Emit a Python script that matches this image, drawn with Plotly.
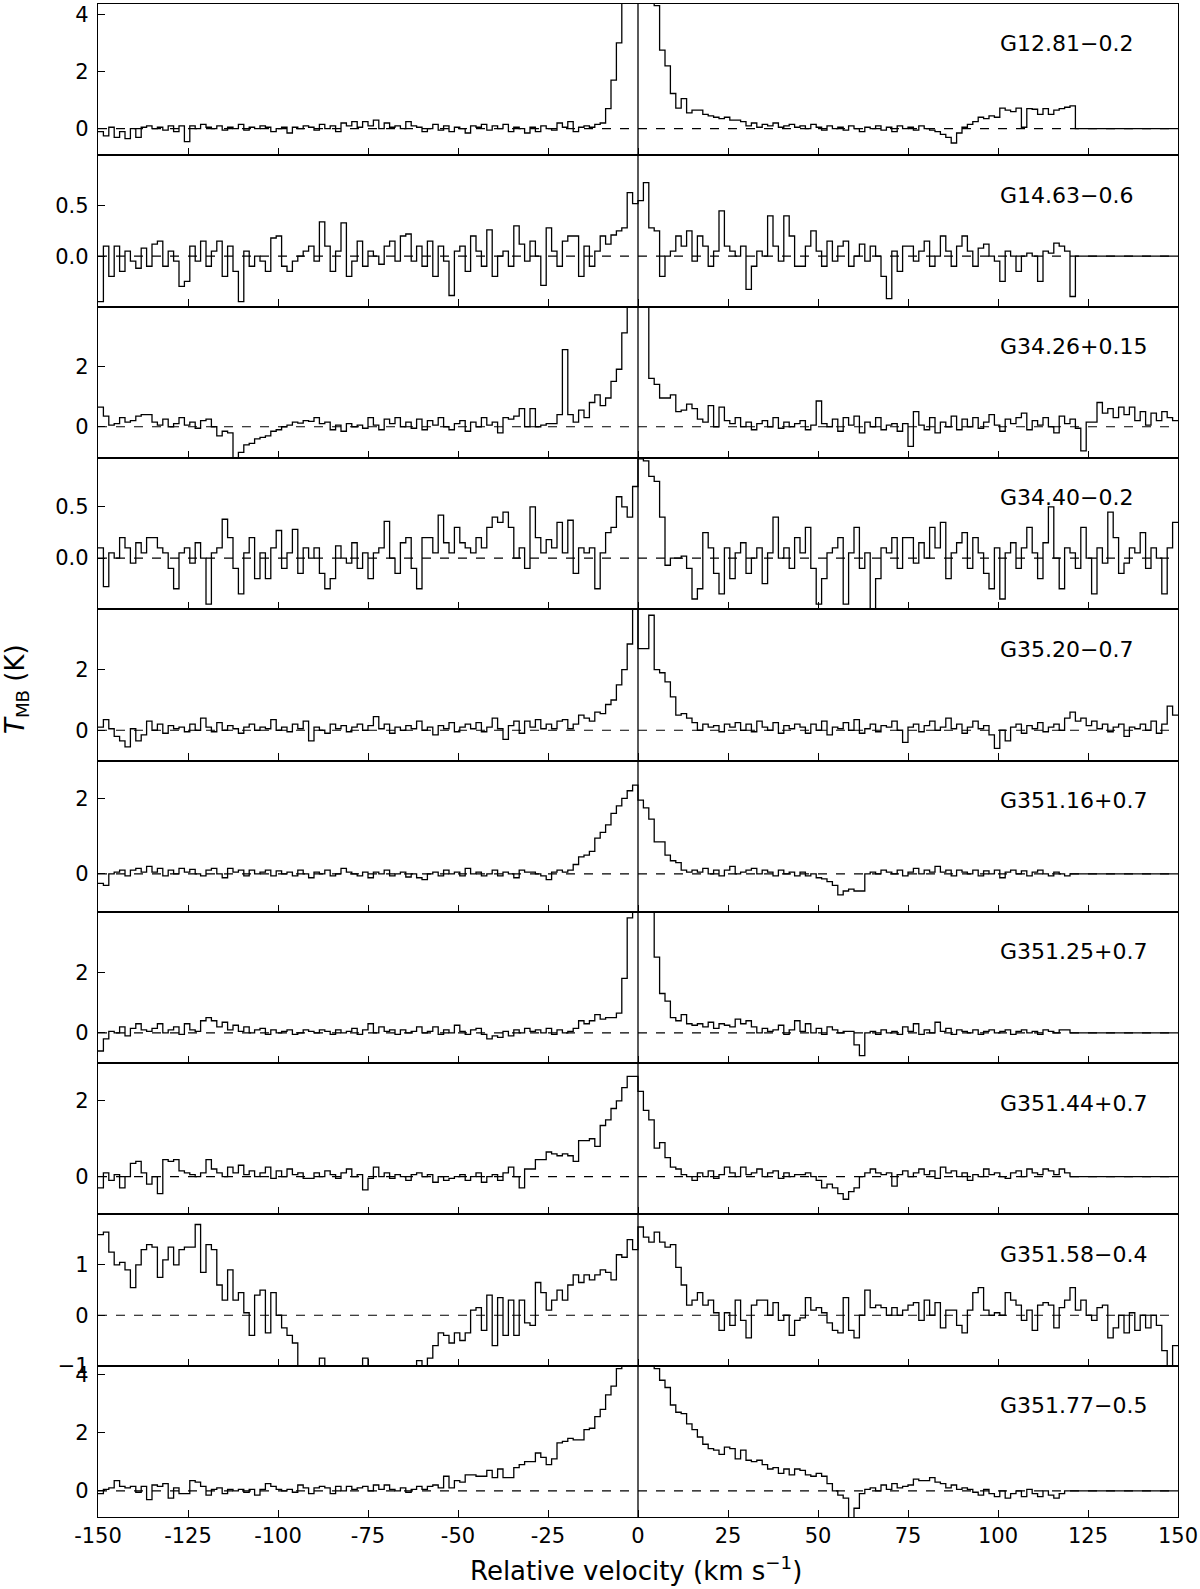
import plotly.graph_objects as go

# ---------------- data (channel width 1.5 km/s, from -150 to +150 km/s) ----------------
VEL_MIN = -150.0
CHAN = 1.5

source_names = ["G12.81\u22120.2", "G14.63\u22120.6", "G34.26+0.15", "G34.40\u22120.2", "G35.20\u22120.7",
                "G351.16+0.7", "G351.25+0.7", "G351.44+0.7", "G351.58\u22120.4", "G351.77\u22120.5"]

g12_81 = [
    -0.1, -0.25, 0.05, -0.3, -0.1, -0.35, 0.0, -0.3, 0.05, 0.1,
    0.0, 0.05, -0.05, 0.1, -0.1, 0.1, -0.45, 0.1, 0.0, 0.15,
    0.05, 0.0, 0.1, -0.05, 0.05, 0.0, 0.15, -0.05, 0.05, 0.0,
    0.1, 0.05, -0.1, 0.0, 0.05, -0.15, 0.05, 0.0, 0.1, 0.05,
    -0.05, 0.15, 0.0, 0.1, -0.1, 0.2, 0.1, 0.25, 0.05, 0.25,
    0.1, 0.3, 0.0, 0.2, 0.05, 0.1, 0.0, 0.25, 0.1, 0.05,
    -0.1, 0.0, 0.15, -0.05, 0.1, -0.1, 0.05, 0.0, -0.15, 0.1,
    0.05, 0.15, -0.05, 0.1, 0.0, 0.15, -0.1, 0.05, 0.0, -0.15,
    0.05, -0.1, 0.1, 0.0, -0.05, 0.2, 0.05, 0.25, -0.1, 0.05,
    0.1, 0.05, 0.15, 0.2, 0.7, 1.7, 3.0, 6.0, 9.0, 10.0,
    10.0, 8.0, 6.0, 4.3, 2.75, 2.2, 1.23, 0.72, 1.05, 0.55,
    0.65, 0.65, 0.5, 0.45, 0.4, 0.35, 0.4, 0.3, 0.3, 0.25,
    0.1, 0.2, 0.05, 0.15, 0.1, 0.2, 0.05, 0.1, 0.15, 0.05,
    0.1, 0.0, 0.15, 0.05, -0.05, 0.1, 0.0, 0.05, -0.05, 0.1,
    0.0, -0.1, 0.05, 0.0, 0.1, -0.05, 0.05, -0.1, 0.1, 0.0,
    0.05, -0.05, 0.1, 0.0, -0.05, -0.1, -0.2, -0.3, -0.5, -0.15,
    0.05, 0.15, 0.25, 0.4, 0.35, 0.45, 0.4, 0.72, 0.65, 0.6,
    0.72, 0.05, 0.7, 0.68, 0.5, 0.7, 0.5, 0.65, 0.7, 0.75,
    0.8, 0.0, 0.0, 0.0, 0.0, 0.0, 0.0, 0.0, 0.0, 0.0,
    0.0, 0.0, 0.0, 0.0, 0.0, 0.0, 0.0, 0.0, 0.0, 0.0,
]

g14_63 = [
    -0.45, 0.1, -0.2, 0.1, -0.15, 0.05, -0.05, -0.12, 0.08, -0.1,
    0.12, 0.15, -0.1, 0.05, -0.05, -0.3, -0.25, 0.1, -0.05, 0.15,
    -0.1, 0.05, 0.15, -0.2, 0.1, -0.15, -0.45, 0.05, -0.1, 0.0,
    -0.05, -0.15, 0.18, 0.2, -0.1, -0.15, -0.05, 0.0, 0.05, 0.1,
    -0.05, 0.34, 0.1, -0.15, 0.05, 0.33, -0.2, -0.05, 0.15, -0.1,
    0.05, 0.0, -0.08, 0.1, 0.15, -0.05, 0.2, 0.22, -0.05, 0.1,
    -0.1, 0.15, -0.2, 0.1, -0.05, -0.39, 0.05, 0.1, -0.15, 0.2,
    0.05, -0.1, 0.26, -0.2, 0.0, 0.05, -0.1, 0.3, 0.12, -0.05,
    0.15, 0.0, -0.29, 0.28, 0.05, -0.1, 0.15, 0.2, 0.2, -0.2,
    0.1, -0.1, 0.05, 0.2, 0.12, 0.21, 0.25, 0.28, 0.63, 0.52,
    0.55, 0.73, 0.28, 0.25, -0.2, 0.0, 0.05, 0.2, 0.1, 0.25,
    -0.05, 0.2, 0.1, -0.1, 0.05, 0.45, 0.1, 0.05, 0.0, 0.1,
    -0.33, -0.1, 0.05, 0.0, 0.4, 0.1, -0.05, 0.4, 0.2, -0.1,
    -0.1, 0.1, 0.25, 0.05, -0.1, 0.15, -0.05, 0.1, 0.15, -0.1,
    0.0, 0.12, -0.05, 0.1, 0.0, -0.2, -0.42, 0.05, -0.15, 0.1,
    0.1, -0.05, 0.05, 0.15, -0.1, 0.0, 0.2, 0.05, -0.1, 0.1,
    0.2, 0.05, -0.1, 0.08, 0.12, 0.0, -0.05, -0.25, 0.05, 0.0,
    -0.15, 0.0, 0.03, 0.0, -0.25, 0.05, 0.03, 0.13, 0.1, 0.05,
    -0.4, 0.0, 0.0, 0.0, 0.0, 0.0, 0.0, 0.0, 0.0, 0.0,
    0.0, 0.0, 0.0, 0.0, 0.0, 0.0, 0.0, 0.0, 0.0, 0.0,
]

g34_26 = [
    0.65, 0.35, 0.05, 0.1, 0.3, 0.15, 0.2, 0.35, 0.4, 0.4,
    0.15, 0.05, 0.25, 0.0, 0.1, 0.3, 0.05, 0.15, -0.05, 0.2,
    0.25, 0.0, -0.3, -0.15, -0.2, -1.2, -0.85, -0.6, -0.55, -0.4,
    -0.35, -0.3, -0.15, -0.1, 0.0, 0.05, 0.15, 0.12, 0.2, 0.18,
    0.3, 0.1, 0.15, -0.1, 0.05, -0.15, 0.1, 0.0, 0.05, -0.05,
    0.3, 0.05, -0.1, 0.25, 0.1, 0.3, 0.0, 0.15, -0.05, 0.25,
    -0.1, 0.2, 0.05, 0.3, 0.0, -0.1, 0.1, 0.2, -0.15, 0.15,
    0.0, 0.3, 0.05, 0.15, -0.2, 0.3, 0.25, 0.35, 0.6, 0.0,
    0.6, 0.0, 0.05, 0.1, 0.1, 0.4, 2.55, 0.4, 0.15, 0.55,
    0.3, 0.8, 1.05, 0.7, 0.95, 1.5, 1.9, 3.1, 4.5, 6.0,
    6.0, 4.2, 1.6, 1.4, 0.95, 0.95, 1.05, 0.5, 0.55, 0.75,
    0.6, 0.25, 0.15, 0.7, 0.0, 0.65, 0.2, 0.1, 0.3, 0.0,
    0.15, -0.1, 0.1, 0.2, 0.0, 0.3, -0.05, 0.15, 0.0, 0.1,
    0.2, -0.1, 0.05, 0.85, 0.1, 0.0, 0.25, -0.15, 0.3, 0.05,
    0.35, -0.2, 0.15, 0.0, 0.3, -0.1, 0.05, 0.1, -0.15, 0.1,
    -0.65, 0.5, 0.05, -0.1, 0.3, -0.2, 0.15, 0.0, 0.35, -0.1,
    0.25, 0.0, 0.3, -0.05, 0.15, 0.4, 0.05, -0.15, 0.25, 0.1,
    0.3, 0.45, -0.1, 0.2, 0.05, 0.3, 0.0, -0.2, 0.35, 0.1,
    0.25, -0.05, -0.8, 0.15, 0.15, 0.8, 0.45, 0.6, 0.3, 0.65,
    0.4, 0.65, 0.2, 0.5, 0.05, 0.45, 0.2, 0.5, 0.3, 0.2,
]

g34_40 = [
    0.1, -0.28, 0.05, 0.0, 0.2, 0.1, -0.05, 0.15, 0.05, 0.2,
    0.2, 0.1, 0.05, -0.1, -0.3, 0.05, 0.1, -0.05, 0.15, 0.0,
    -0.45, 0.05, 0.1, 0.38, 0.2, -0.1, -0.35, 0.05, 0.2, -0.2,
    0.05, -0.2, 0.1, 0.27, -0.1, 0.05, 0.28, -0.15, 0.1, 0.0,
    0.1, -0.15, -0.3, -0.2, 0.12, 0.0, -0.05, 0.15, -0.1, 0.05,
    -0.2, 0.05, 0.1, 0.36, 0.0, -0.15, 0.15, 0.2, -0.1, -0.3,
    0.2, 0.2, 0.05, 0.42, 0.15, 0.05, 0.3, 0.15, 0.1, 0.05,
    0.2, 0.1, 0.3, 0.4, 0.35, 0.45, 0.3, 0.0, 0.1, -0.1,
    0.5, 0.2, 0.05, 0.18, 0.1, 0.35, 0.05, 0.37, -0.15, 0.1,
    0.05, 0.1, -0.3, 0.05, 0.25, 0.3, 0.6, 0.5, 0.4, 0.7,
    0.97, 0.95, 0.8, 0.75, 0.4, -0.07, 0.0, 0.0, 0.02, -0.1,
    -0.4, -0.3, 0.25, 0.1, -0.15, -0.35, 0.1, -0.2, 0.05, 0.15,
    -0.15, 0.0, 0.1, -0.25, 0.05, 0.4, 0.0, 0.1, -0.1, 0.2,
    0.05, 0.3, -0.1, -0.45, -0.2, 0.05, 0.1, 0.2, -0.45, 0.05,
    0.3, -0.1, 0.05, -0.5, -0.2, 0.1, 0.05, 0.2, -0.1, 0.2,
    0.2, -0.05, 0.15, 0.0, 0.3, 0.1, 0.35, -0.2, 0.05, 0.15,
    0.25, -0.1, 0.2, 0.05, -0.15, -0.3, 0.1, -0.4, 0.05, 0.15,
    -0.1, 0.1, 0.3, 0.05, -0.2, 0.15, 0.5, 0.0, -0.3, 0.1,
    0.05, -0.1, 0.3, 0.0, -0.35, 0.1, -0.05, 0.45, 0.2, -0.15,
    -0.05, 0.1, 0.05, 0.25, -0.1, 0.1, 0.0, -0.35, 0.1, 0.35,
]

g35_20 = [
    0.1, 0.35, 0.05, -0.2, -0.35, -0.55, 0.05, -0.35, -0.15, 0.3,
    0.0, 0.2, -0.1, 0.15, 0.05, 0.1, -0.05, 0.2, 0.0, 0.4,
    0.1, -0.05, 0.25, 0.0, 0.15, 0.05, -0.1, 0.1, 0.2, 0.0,
    0.1, 0.05, 0.35, 0.0, 0.1, -0.05, 0.2, 0.05, 0.3, -0.35,
    0.1, 0.0, -0.1, 0.2, 0.05, 0.15, -0.05, 0.1, 0.2, 0.0,
    0.15, 0.45, 0.05, 0.2, -0.1, 0.1, 0.0, 0.15, 0.05, 0.3,
    0.0, 0.1, -0.15, 0.15, 0.05, 0.25, -0.05, 0.1, 0.2, 0.05,
    0.25, -0.05, 0.1, 0.4, 0.05, -0.3, 0.15, 0.3, -0.1, 0.3,
    0.1, 0.35, 0.05, 0.2, 0.05, 0.3, 0.35, 0.05, 0.2, 0.5,
    0.4, 0.3, 0.6, 0.55, 0.85, 1.0, 1.5, 2.0, 2.85, 4.0,
    2.7, 2.7, 3.8, 2.0, 1.9, 1.6, 1.1, 0.5, 0.55, 0.4,
    0.25, 0.0, 0.2, 0.1, 0.15, -0.05, 0.2, 0.1, 0.25, 0.0,
    0.2, -0.05, 0.3, 0.1, 0.0, 0.25, -0.1, 0.15, 0.05, 0.2,
    0.1, -0.1, 0.2, 0.0, 0.3, -0.15, 0.1, 0.05, 0.25, 0.0,
    0.35, -0.1, 0.05, 0.2, -0.05, 0.15, 0.1, 0.3, 0.0, -0.4,
    0.1, 0.2, -0.05, 0.15, 0.3, 0.0, 0.1, 0.4, 0.05, 0.2,
    -0.1, 0.1, 0.3, 0.05, 0.15, -0.15, -0.6, 0.0, -0.35, 0.1,
    0.2, -0.1, 0.15, 0.05, 0.25, -0.05, 0.1, 0.2, 0.0, 0.4,
    0.6, 0.3, 0.4, 0.15, 0.3, 0.05, 0.2, -0.05, 0.1, 0.2,
    -0.2, 0.1, 0.05, 0.2, 0.0, 0.3, -0.1, 0.2, 0.8, 0.5,
]

g351_16 = [
    -0.25, -0.3, 0.0, 0.05, 0.1, -0.05, 0.1, 0.15, 0.05, 0.2,
    0.05, 0.15, -0.05, 0.1, 0.0, 0.15, 0.05, 0.12, 0.0, -0.05,
    0.1, 0.15, 0.0, -0.1, 0.15, 0.05, 0.1, -0.05, 0.1, 0.0,
    0.05, 0.1, -0.05, 0.08, 0.0, 0.05, -0.05, 0.1, 0.0, -0.1,
    0.05, 0.0, 0.1, -0.05, 0.0, 0.15, 0.05, 0.0, -0.05, 0.05,
    -0.1, 0.05, 0.0, 0.1, -0.05, 0.0, 0.05, -0.08, 0.0, -0.1,
    -0.15, 0.0, 0.05, -0.05, 0.1, 0.0, 0.05, -0.05, 0.15, 0.0,
    0.05, -0.05, 0.0, 0.1, -0.05, 0.05, 0.0, -0.1, 0.1, 0.05,
    0.05, 0.0, -0.05, -0.15, 0.05, 0.1, 0.05, 0.1, 0.25, 0.45,
    0.5, 0.6, 0.95, 1.1, 1.3, 1.6, 1.8, 2.0, 2.2, 2.35,
    1.95, 1.75, 1.45, 0.85, 0.85, 0.5, 0.35, 0.3, 0.1, 0.05,
    0.1, 0.05, 0.15, 0.0, 0.1, -0.05, 0.1, 0.2, 0.0, 0.05,
    0.1, 0.15, 0.0, 0.1, 0.05, -0.05, 0.1, 0.0, 0.05, -0.05,
    0.05, -0.05, 0.0, -0.1, -0.13, -0.2, -0.3, -0.55, -0.45, -0.4,
    -0.45, -0.45, 0.0, 0.05, 0.0, 0.1, 0.05, 0.0, 0.1, -0.05,
    0.05, 0.15, 0.0, 0.1, 0.05, 0.2, 0.05, 0.1, -0.05, 0.1,
    0.05, 0.0, 0.1, -0.05, 0.08, 0.0, 0.1, -0.1, 0.05, 0.1,
    0.0, 0.08, -0.05, 0.05, 0.1, 0.0, -0.05, 0.05, 0.0, -0.05,
    0.0, 0.0, 0.0, 0.0, 0.0, 0.0, 0.0, 0.0, 0.0, 0.0,
    0.0, 0.0, 0.0, 0.0, 0.0, 0.0, 0.0, 0.0, 0.0, 0.0,
]

g351_25 = [
    -0.6, -0.2, 0.05, 0.0, 0.2, -0.1, 0.15, 0.3, 0.1, 0.05,
    0.15, 0.3, 0.0, 0.1, 0.2, -0.05, 0.3, 0.1, 0.05, 0.4,
    0.5, 0.4, 0.2, 0.35, 0.1, 0.25, 0.05, 0.2, 0.0, 0.1,
    0.15, -0.05, 0.1, 0.0, 0.05, 0.1, -0.05, 0.0, 0.1, 0.05,
    0.0, 0.1, 0.05, -0.05, 0.1, 0.0, 0.05, 0.15, -0.05, 0.1,
    0.3, 0.0, 0.2, 0.05, 0.1, -0.05, 0.1, 0.0, 0.05, 0.2,
    0.0, 0.05, 0.2, -0.05, 0.1, 0.0, 0.25, 0.05, -0.05, 0.1,
    0.15, -0.05, -0.2, -0.1, -0.15, 0.05, -0.1, 0.1, 0.0, 0.15,
    0.05, 0.1, 0.0, 0.15, -0.05, 0.1, 0.0, 0.05, 0.15, 0.4,
    0.3, 0.4, 0.6, 0.45, 0.5, 0.5, 0.65, 1.8, 3.8, 6.0,
    8.0, 6.5, 5.0, 2.5, 1.3, 1.05, 0.5, 0.4, 0.6, 0.3,
    0.25, 0.3, 0.2, 0.35, 0.15, 0.3, 0.25, 0.2, 0.45, 0.3,
    0.4, 0.2, 0.0, 0.15, 0.05, 0.1, 0.25, -0.05, 0.1, 0.4,
    0.05, 0.3, 0.0, 0.15, -0.05, 0.2, 0.1, 0.0, 0.05, 0.05,
    -0.4, -0.75, 0.0, 0.05, -0.05, 0.1, 0.0, 0.05, -0.05, 0.2,
    0.05, 0.3, -0.05, 0.1, 0.0, 0.35, 0.05, 0.15, -0.05, 0.1,
    0.05, 0.0, 0.1, -0.05, 0.05, 0.1, 0.0, 0.05, 0.1, -0.05,
    0.05, 0.1, 0.0, 0.05, -0.05, 0.1, 0.05, 0.0, 0.1, 0.1,
    0.0, 0.0, 0.0, 0.0, 0.0, 0.0, 0.0, 0.0, 0.0, 0.0,
    0.0, 0.0, 0.0, 0.0, 0.0, 0.0, 0.0, 0.0, 0.0, 0.0,
]

g351_44 = [
    -0.3, 0.1, -0.1, 0.05, -0.3, 0.0, 0.35, 0.4, 0.1, -0.2,
    0.0, -0.45, 0.45, 0.4, 0.45, 0.15, 0.1, 0.05, 0.0, 0.1,
    0.45, 0.2, 0.1, 0.0, 0.25, 0.1, 0.3, 0.05, 0.15, 0.0,
    0.1, 0.25, -0.05, 0.15, 0.0, 0.2, 0.05, 0.1, -0.05, -0.05,
    0.1, 0.0, 0.15, 0.05, -0.05, 0.1, 0.2, 0.0, 0.05, -0.35,
    -0.05, 0.25, 0.0, 0.1, -0.05, 0.05, 0.0, -0.1, 0.05, 0.1,
    0.0, 0.05, -0.15, 0.0, -0.1, -0.05, 0.0, 0.05, -0.1, 0.0,
    0.1, -0.15, 0.0, 0.05, -0.1, 0.1, 0.25, 0.0, -0.3, 0.2,
    0.2, 0.45, 0.45, 0.65, 0.6, 0.55, 0.6, 0.55, 0.4, 0.95,
    0.95, 1.0, 0.8, 1.35, 1.5, 1.8, 2.0, 2.35, 2.65, 2.65,
    2.25, 1.75, 1.5, 0.75, 0.9, 0.5, 0.25, 0.2, 0.05, 0.0,
    -0.1, 0.1, 0.0, 0.15, -0.05, 0.05, 0.25, 0.1, 0.0, 0.25,
    0.05, 0.1, 0.2, 0.0, 0.1, 0.15, -0.05, 0.1, 0.0, 0.05,
    0.05, 0.1, 0.0, -0.1, -0.3, -0.2, -0.3, -0.45, -0.6, -0.4,
    -0.3, 0.0, 0.1, 0.2, 0.1, 0.05, 0.1, -0.25, 0.05, 0.15,
    0.0, 0.1, 0.2, 0.05, 0.15, -0.05, 0.25, 0.1, 0.15, 0.0,
    0.1, -0.1, 0.05, 0.0, 0.2, 0.05, 0.1, 0.0, -0.05, 0.1,
    0.15, 0.0, 0.2, 0.1, 0.05, 0.2, 0.15, 0.05, 0.2, 0.1,
    0.0, 0.0, 0.0, 0.0, 0.0, 0.0, 0.0, 0.0, 0.0, 0.0,
    0.0, 0.0, 0.0, 0.0, 0.0, 0.0, 0.0, 0.0, 0.0, 0.0,
]

g351_58 = [
    1.6, 1.65, 1.25, 1.0, 1.05, 0.9, 0.55, 1.0, 1.3, 1.4,
    1.35, 0.75, 1.1, 1.35, 1.0, 1.3, 1.35, 1.35, 1.8, 0.85,
    1.4, 1.3, 0.6, 0.3, 0.9, 0.3, 0.45, 0.05, -0.4, 0.4,
    0.5, -0.35, 0.45, 0.0, -0.25, -0.4, -0.55, -1.3, -1.5, -1.8,
    -1.4, -0.85, -1.4, -1.6, -1.3, -1.5, -1.7, -1.5, -1.4, -0.85,
    -1.3, -1.5, -1.6, -1.3, -1.8, -1.5, -1.4, -1.6, -1.2, -0.9,
    -1.2, -0.85, -0.6, -0.35, -0.4, -0.55, -0.35, -0.5, -0.35, 0.1,
    0.15, -0.3, 0.4, -0.6, 0.35, -0.4, 0.3, -0.4, 0.3, -0.15,
    -0.2, 0.65, 0.45, 0.1, 0.3, 0.5, 0.3, 0.6, 0.8, 0.65,
    0.8, 0.7, 0.8, 0.9, 0.85, 0.7, 1.2, 1.15, 1.5, 1.3,
    1.75, 1.55, 1.45, 1.65, 1.45, 1.35, 1.4, 0.95, 0.6, 0.2,
    0.3, 0.45, 0.2, 0.3, 0.05, -0.3, 0.05, -0.2, 0.3, -0.1,
    -0.45, 0.2, 0.3, 0.3, 0.0, 0.25, -0.1, 0.0, -0.4, -0.1,
    -0.05, 0.35, 0.1, 0.15, 0.05, -0.15, -0.3, -0.35, 0.35, -0.3,
    -0.45, 0.0, 0.5, 0.15, 0.2, 0.15, 0.0, 0.15, 0.0, 0.1,
    0.2, 0.25, -0.1, 0.3, 0.0, 0.25, -0.25, 0.1, 0.1, -0.2,
    -0.35, 0.1, 0.45, 0.55, 0.1, 0.0, 0.05, 0.0, 0.45, 0.3,
    0.2, -0.1, 0.1, -0.3, 0.2, 0.25, 0.2, -0.25, 0.15, 0.3,
    0.55, 0.1, 0.3, 0.0, -0.1, 0.15, 0.2, -0.45, -0.25, 0.0,
    -0.35, 0.05, -0.3, 0.0, -0.25, 0.0, -0.2, -0.7, -1.2, -0.6,
]

g351_77 = [
    -0.1, 0.05, 0.1, 0.35, 0.15, 0.1, 0.15, -0.05, 0.15, -0.3,
    0.2, 0.15, 0.25, -0.25, 0.1, -0.1, -0.1, 0.35, 0.3, 0.15,
    -0.15, 0.05, 0.1, -0.1, 0.05, 0.0, 0.05, -0.05, 0.05, -0.15,
    0.05, 0.25, 0.15, 0.05, 0.0, 0.05, -0.05, 0.2, 0.1, -0.1,
    0.1, 0.15, 0.1, -0.1, 0.15, 0.0, 0.15, 0.05, 0.1, 0.15,
    0.0, 0.2, 0.05, 0.2, 0.05, 0.0, 0.1, -0.05, 0.05, 0.15,
    0.05, 0.15, 0.2, 0.1, 0.5, 0.1, 0.35, 0.3, 0.55, 0.55,
    0.5, 0.5, 0.7, 0.45, 0.75, 0.45, 0.45, 0.8, 0.9, 1.0,
    1.0, 1.3, 1.15, 0.9, 1.1, 1.65, 1.7, 1.8, 1.75, 1.75,
    2.1, 2.15, 2.55, 2.8, 3.3, 3.6, 4.2, 5.5, 7.0, 8.0,
    8.0, 7.0, 5.5, 4.2, 3.8, 3.55, 2.95, 2.7, 2.65, 2.3,
    2.1, 1.85, 1.6, 1.45, 1.4, 1.25, 1.5, 1.45, 1.1, 1.4,
    1.05, 1.0, 1.05, 0.9, 0.75, 0.8, 0.6, 0.75, 0.55, 0.75,
    0.7, 0.55, 0.5, 0.6, 0.5, 0.25, 0.0, -0.15, -0.25, -0.95,
    -0.6, -0.1, 0.05, 0.1, 0.0, 0.2, 0.05, 0.25, 0.1, 0.15,
    0.2, 0.4, 0.35, 0.35, 0.45, 0.3, 0.25, 0.1, 0.2, 0.05,
    0.1, 0.05, -0.05, -0.15, 0.05, -0.1, -0.2, 0.0, -0.25, -0.1,
    0.0, -0.2, 0.05, -0.1, -0.2, 0.0, -0.15, -0.25, -0.1, 0.0,
    0.0, 0.0, 0.0, 0.0, 0.0, 0.0, 0.0, 0.0, 0.0, 0.0,
    0.0, 0.0, 0.0, 0.0, 0.0, 0.0, 0.0, 0.0, 0.0, 0.0,
]

spectra = [g12_81, g14_63, g34_26, g34_40, g35_20, g351_16, g351_25, g351_44, g351_58, g351_77]

y_ranges = [[-0.93, 4.36], [-0.5, 1.0], [-1.03, 3.97], [-0.5, 0.98], [-1.0, 4.0],
            [-1.0, 3.0], [-1.0, 4.0], [-1.0, 3.0], [-1.0, 2.0], [-0.9, 4.3]]
y_tickvals = [[0, 2, 4], [0.0, 0.5], [0, 2], [0.0, 0.5], [0, 2],
              [0, 2], [0, 2], [0, 2], [-1, 0, 1], [0, 2, 4]]
y_ticktext = [["0", "2", "4"], ["0.0", "0.5"], ["0", "2"], ["0.0", "0.5"], ["0", "2"],
              ["0", "2"], ["0", "2"], ["0", "2"], ["\u22121", "0", "1"], ["0", "2", "4"]]

x_tickvals = [-150, -125, -100, -75, -50, -25, 0, 25, 50, 75, 100, 125, 150]
x_ticktext = ["-150", "-125", "-100", "-75", "-50", "-25", "0", "25", "50", "75", "100", "125", "150"]

# ---------------- figure ----------------
FONT = "DejaVu Sans"
W, H = 1200, 1589
ML, MR, MT, MB = 98, 22, 4, 72
plot_h = H - MT - MB
n = len(spectra)
panel_h = plot_h / n
TICK_SIZE = 21

fig = go.Figure()
layout = {}
shapes = []
annotations = []

for k, spec in enumerate(spectra):
    sfx = "" if k == 0 else str(k + 1)
    edges = [VEL_MIN + CHAN * i for i in range(len(spec) + 1)]
    yvals = list(spec) + [spec[-1]]
    fig.add_trace(go.Scatter(
        x=edges, y=yvals, mode="lines",
        line=dict(shape="hv", color="black", width=1.3),
        xaxis="x" + sfx, yaxis="y" + sfx, showlegend=False, hoverinfo="skip"))

    top = 1 - k / n
    bot = 1 - (k + 1) / n
    layout["xaxis" + sfx] = dict(
        domain=[0, 1], anchor="y" + sfx, range=[-150, 150], automargin=False,
        tickmode="array", tickvals=x_tickvals, ticktext=x_ticktext,
        showticklabels=(k == n - 1), ticks="inside", ticklen=7, tickwidth=1.1,
        tickcolor="black", showline=True, mirror=True, linecolor="black", linewidth=1.3,
        showgrid=False, zeroline=False,
        tickfont=dict(family=FONT, size=TICK_SIZE, color="black"))
    layout["yaxis" + sfx] = dict(
        domain=[bot, top], anchor="x" + sfx, range=y_ranges[k], automargin=False,
        tickmode="array", tickvals=y_tickvals[k], ticktext=y_ticktext[k],
        ticks="inside", ticklen=7, tickwidth=1.1, tickcolor="black",
        showline=True, mirror=True, linecolor="black", linewidth=1.3,
        showgrid=False, zeroline=False, ticklabelstandoff=4,
        tickfont=dict(family=FONT, size=TICK_SIZE, color="black"))

    shapes.append(dict(type="line", xref=("x" + sfx + " domain"), x0=0, x1=1,
                       yref="y" + sfx, y0=0, y1=0,
                       line=dict(color="black", width=1.2, dash="dash")))
    annotations.append(dict(text=source_names[k], xref="x" + sfx, x=100,
                            yref="y" + sfx + " domain", y=1 - 40 / panel_h,
                            xanchor="left", yanchor="middle", showarrow=False,
                            font=dict(family=FONT, size=22, color="black")))

# vertical line at zero velocity through all panels
shapes.append(dict(type="line", xref="x", x0=0, x1=0, yref="paper", y0=0, y1=1,
                   line=dict(color="black", width=1.3)))

annotations.append(dict(text="<i>T</i><sub>MB</sub> (K)", xref="paper", yref="paper",
                        x=(17 - ML) / (W - ML - MR), y=1 - (689 - MT) / plot_h,
                        xanchor="center", yanchor="middle", textangle=-90, showarrow=False,
                        font=dict(family=FONT, size=26, color="black")))
annotations.append(dict(text="Relative velocity (km s<sup>\u22121</sup>)", xref="paper", yref="paper",
                        x=(636 - ML) / (W - ML - MR), y=-(1569 - (H - MB)) / plot_h,
                        xanchor="center", yanchor="middle", showarrow=False,
                        font=dict(family=FONT, size=26, color="black")))

fig.update_layout(
    width=W, height=H,
    margin=dict(l=ML, r=MR, t=MT, b=MB, autoexpand=False),
    paper_bgcolor="white", plot_bgcolor="white",
    shapes=shapes, annotations=annotations,
    font=dict(family=FONT, color="black"),
    **layout)

# remove the default page margin so the figure sits at the top-left corner of the window
fig.write_html("out.html", config={"displayModeBar": False},
               post_script="document.body.style.margin='0';document.body.style.padding='0';")
